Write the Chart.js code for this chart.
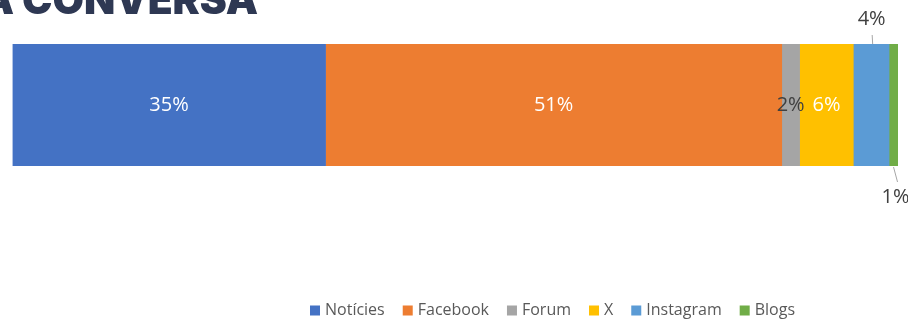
<!DOCTYPE html>
<html>
<head>
<meta charset="utf-8">
<script src="https://cdn.jsdelivr.net/npm/chart.js@4.4.1/dist/chart.umd.min.js"></script>
<style>
  html, body { margin: 0; padding: 0; background: #ffffff; }
  #wrap { width: 908px; height: 321px; position: relative; overflow: hidden; }
  canvas { display: block; }
</style>
</head>
<body>
<div id="wrap"><canvas id="c" width="908" height="321"></canvas></div>
<script>
// Share of the conversation by source (%)
const categories = ['Notícies', 'Facebook', 'Forum', 'X', 'Instagram', 'Blogs'];
const shares = [35, 51, 2, 6, 4, 1];
const colors = ['#4472C4', '#ED7D31', '#A5A5A5', '#FFC000', '#5B9BD5', '#70AD47'];
const titleText = 'A CONVERSA';

// Where each value label sits: inside the segment, or outside with a leader line
const labelPlacement = ['inside', 'inside', 'inside', 'inside', 'above', 'below'];
const labelColors = ['#ffffff', '#ffffff', '#404040', '#ffffff', '#404040', '#404040'];

const total = shares.reduce((a, b) => a + b, 0);

const LABEL_FONT = '20px "Open Sans", sans-serif';
const LEGEND_FONT = '16px "Open Sans", sans-serif';

const overlay = {
  id: 'overlay',
  afterDatasetsDraw(chart) {
    const ctx = chart.ctx;
    ctx.save();

    // value labels
    ctx.font = LABEL_FONT;
    ctx.textAlign = 'center';
    ctx.textBaseline = 'middle';
    chart.data.datasets.forEach((ds, i) => {
      const bar = chart.getDatasetMeta(i).data[0];
      const left = Math.min(bar.x, bar.base), right = Math.max(bar.x, bar.base);
      const cx = (left + right) / 2;
      const top = bar.y - bar.height / 2, bottom = bar.y + bar.height / 2;
      const txt = ds.data[0] + '%';
      ctx.fillStyle = labelColors[i];
      if (labelPlacement[i] === 'inside') {
        ctx.fillText(txt, cx, bar.y);
      } else if (labelPlacement[i] === 'above') {
        ctx.strokeStyle = '#A6A6A6';
        ctx.lineWidth = 1;
        ctx.beginPath();
        ctx.moveTo(cx + 1, top - 9);
        ctx.lineTo(cx + 1.5, top);
        ctx.stroke();
        ctx.fillText(txt, cx + 0.5, top - 24.5);
      } else {
        ctx.strokeStyle = '#A6A6A6';
        ctx.lineWidth = 1;
        ctx.beginPath();
        ctx.moveTo(cx, bottom + 1);
        ctx.lineTo(cx + 4, bottom + 16);
        ctx.stroke();
        ctx.fillText(txt, cx + 2, bottom + 31.5);
      }
    });

    // legend
    ctx.font = LEGEND_FONT;
    ctx.textAlign = 'left';
    ctx.textBaseline = 'alphabetic';
    const box = 10, boxGap = 5, itemGap = 18;
    const widths = categories.map(c => ctx.measureText(c).width);
    const fullW = widths.reduce((a, w) => a + box + boxGap + w, 0) + itemGap * (categories.length - 1);
    let x = 552.5 - fullW / 2;
    const baseY = 315;
    categories.forEach((c, i) => {
      ctx.fillStyle = colors[i];
      ctx.fillRect(x, baseY - 9.5, box, box);
      x += box + boxGap;
      ctx.fillStyle = '#595959';
      ctx.fillText(c, x, baseY);
      x += widths[i] + itemGap;
    });

    // heading, partly above the top edge
    ctx.fillStyle = '#2E3853';
    ctx.textAlign = 'right';
    ctx.textBaseline = 'alphabetic';
    let size = 40;
    ctx.font = '900 ' + size + 'px Inter, "DejaVu Sans", sans-serif';
    const w = ctx.measureText('CONVERSA').width;
    size = size * 236 / w;
    ctx.font = '900 ' + size.toFixed(2) + 'px Inter, "DejaVu Sans", sans-serif';
    ctx.fillText(titleText, 258, 14);

    ctx.restore();
  }
};

new Chart(document.getElementById('c'), {
  type: 'bar',
  data: {
    labels: [''],
    datasets: categories.map((name, i) => ({
      label: name,
      data: [shares[i]],
      backgroundColor: colors[i],
      borderWidth: 0,
      barPercentage: 1,
      categoryPercentage: 1
    }))
  },
  options: {
    indexAxis: 'y',
    responsive: false,
    animation: false,
    devicePixelRatio: 1,
    layout: { padding: { left: 12.5, right: 10, top: 44, bottom: 155 } },
    scales: {
      x: { stacked: true, min: 0, max: total, display: false },
      y: { stacked: true, display: false }
    },
    plugins: {
      legend: { display: false },
      tooltip: { enabled: false }
    }
  },
  plugins: [overlay]
});
</script>
</body>
</html>
